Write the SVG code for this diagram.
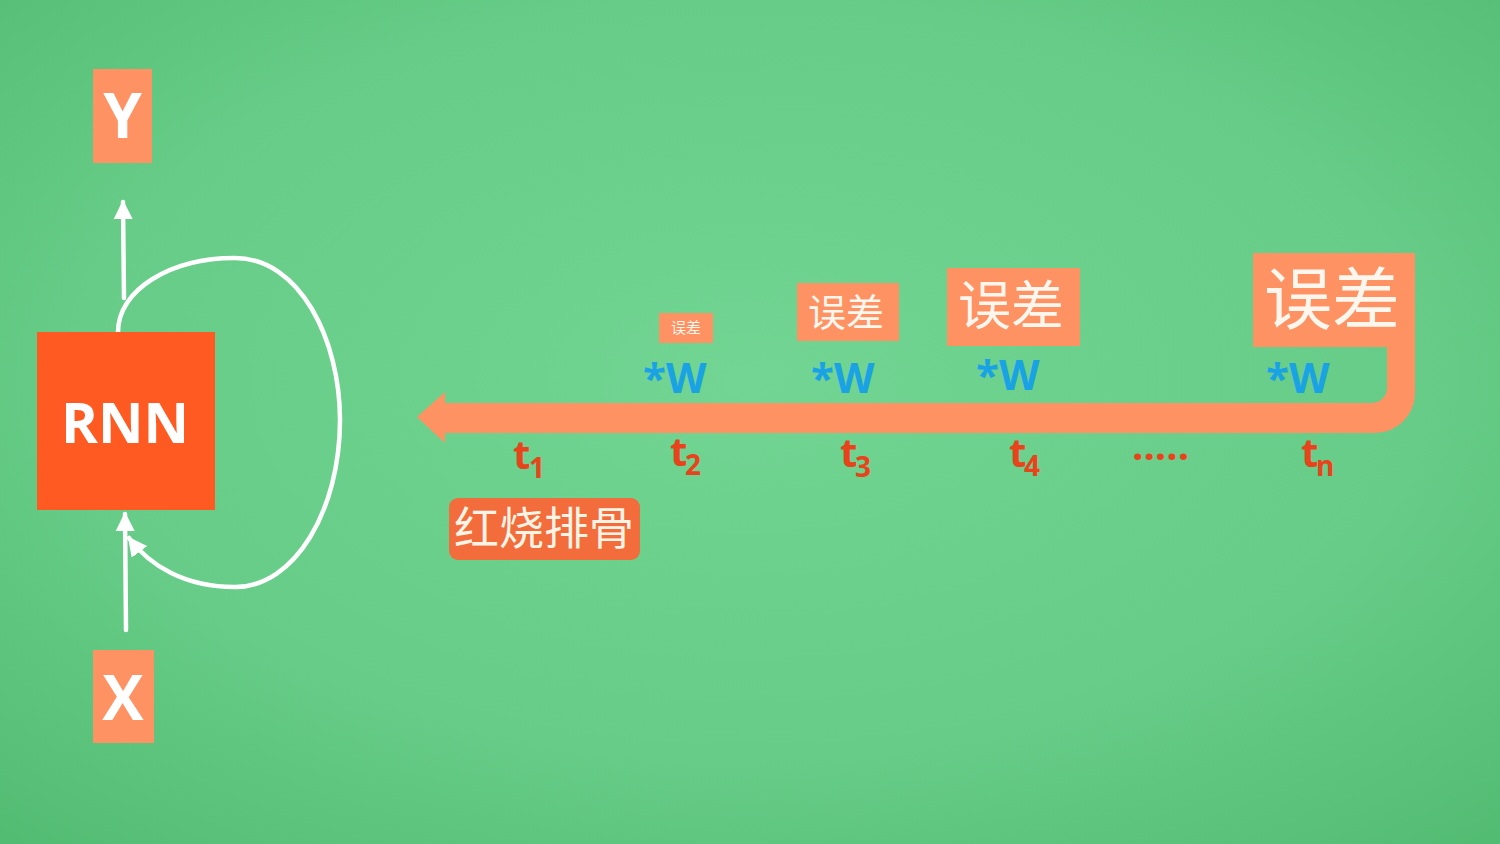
<svg xmlns="http://www.w3.org/2000/svg" width="1500" height="844" viewBox="0 0 1500 844">
<defs>
<radialGradient id="bg" cx="50%" cy="45%" r="75%">
<stop offset="0" stop-color="#72d593"/>
<stop offset="0.6" stop-color="#66cc87"/>
<stop offset="1" stop-color="#52bb72"/>
</radialGradient>
<marker id="ah" viewBox="0 0 10 10" refX="9" refY="5" markerWidth="4.3" markerHeight="4.3" markerUnits="strokeWidth" orient="auto">
<path d="M0,0 L10,5 L0,10 Z" fill="#ffffff"/>
</marker>
<style>
.lat{font-family:"Open Sans","Liberation Sans",sans-serif;font-weight:700}
.cjk{font-family:"Noto Sans CJK SC","Noto Sans CJK JP",sans-serif}
.box{fill:#ff9263}
.wht{fill:#ffffff}
.err{fill:#fff6ee;text-anchor:middle}
.w{fill:#19a2e4;font-size:42px}
.t{fill:#e9431b;font-size:40px}
.sub{fill:#e9431b;font-size:28px}
.wire{fill:none;stroke:#ffffff;stroke-width:4.5;stroke-linecap:round}
</style>
</defs>
<rect width="1500" height="844" fill="url(#bg)"/>

<g id="connectors">
<path class="wire" d="M124,298 L123,202" marker-end="url(#ah)"/>
<path class="wire" d="M126,630 L125,514" marker-end="url(#ah)"/>
<path class="wire" d="M118,332 C118,290 170,258 235,258 C300,258 340,340 340,420 C340,510 295,587 235,587 C185,587 150,566 129,538" marker-end="url(#ah)"/>
<path id="backprop" d="M417,417 L445,392 L445,403 L1372,403 A15,15 0 0 0 1387,388 L1387,300 L1415,300 L1415,393 A40,40 0 0 1 1375,433 L445,433 L445,443 Z" fill="#ff9263"/>
</g>

<g id="node-y">
<rect class="box" x="93" y="69" width="59" height="94"/>
<text class="lat wht" x="122.5" y="138" font-size="62" text-anchor="middle">Y</text>
</g>
<g id="node-rnn">
<rect x="37" y="332" width="178" height="178" fill="#ff5a22"/>
<text class="lat wht" x="125" y="443" font-size="56" text-anchor="middle">RNN</text>
</g>
<g id="node-x">
<rect class="box" x="93" y="650" width="61" height="93"/>
<text class="lat wht" x="123" y="720" font-size="62" text-anchor="middle">X</text>
</g>

<g id="err-t2">
<rect class="box" x="659" y="313" width="54" height="30"/>
<text class="cjk err" x="686" y="333" font-size="15">误差</text>
</g>
<g id="err-t3">
<rect class="box" x="797" y="283" width="102" height="58"/>
<text class="cjk err" x="846" y="326" font-size="38">误差</text>
</g>
<g id="err-t4">
<rect class="box" x="947" y="268" width="133" height="78"/>
<text class="cjk err" x="1011" y="325" font-size="53">误差</text>
</g>
<g id="err-tn">
<rect class="box" x="1253" y="253" width="162" height="94"/>
<text class="cjk err" x="1332" y="324" font-size="68">误差</text>
</g>

<g id="weights">
<text class="lat w" x="643" y="393">*W</text>
<text class="lat w" x="811" y="393">*W</text>
<text class="lat w" x="976" y="390">*W</text>
<text class="lat w" x="1266" y="393">*W</text>
</g>

<g id="times">
<text class="lat t" x="513" y="469">t</text><text class="lat sub" x="529" y="478">1</text>
<text class="lat t" x="670" y="466">t</text><text class="lat sub" x="685" y="475">2</text>
<text class="lat t" x="840" y="467">t</text><text class="lat sub" x="855" y="477">3</text>
<text class="lat t" x="1009" y="467">t</text><text class="lat sub" x="1024" y="476">4</text>
<text class="lat t" x="1132" y="460">.....</text>
<text class="lat t" x="1301" y="467">t</text><text class="lat sub" x="1316" y="476">n</text>
</g>

<g id="label-dish">
<rect x="449" y="498" width="191" height="62" rx="9" fill="#f36c3b"/>
<text class="cjk" x="544" y="545" font-size="45" fill="#fff4e6" text-anchor="middle">红烧排骨</text>
</g>
</svg>
